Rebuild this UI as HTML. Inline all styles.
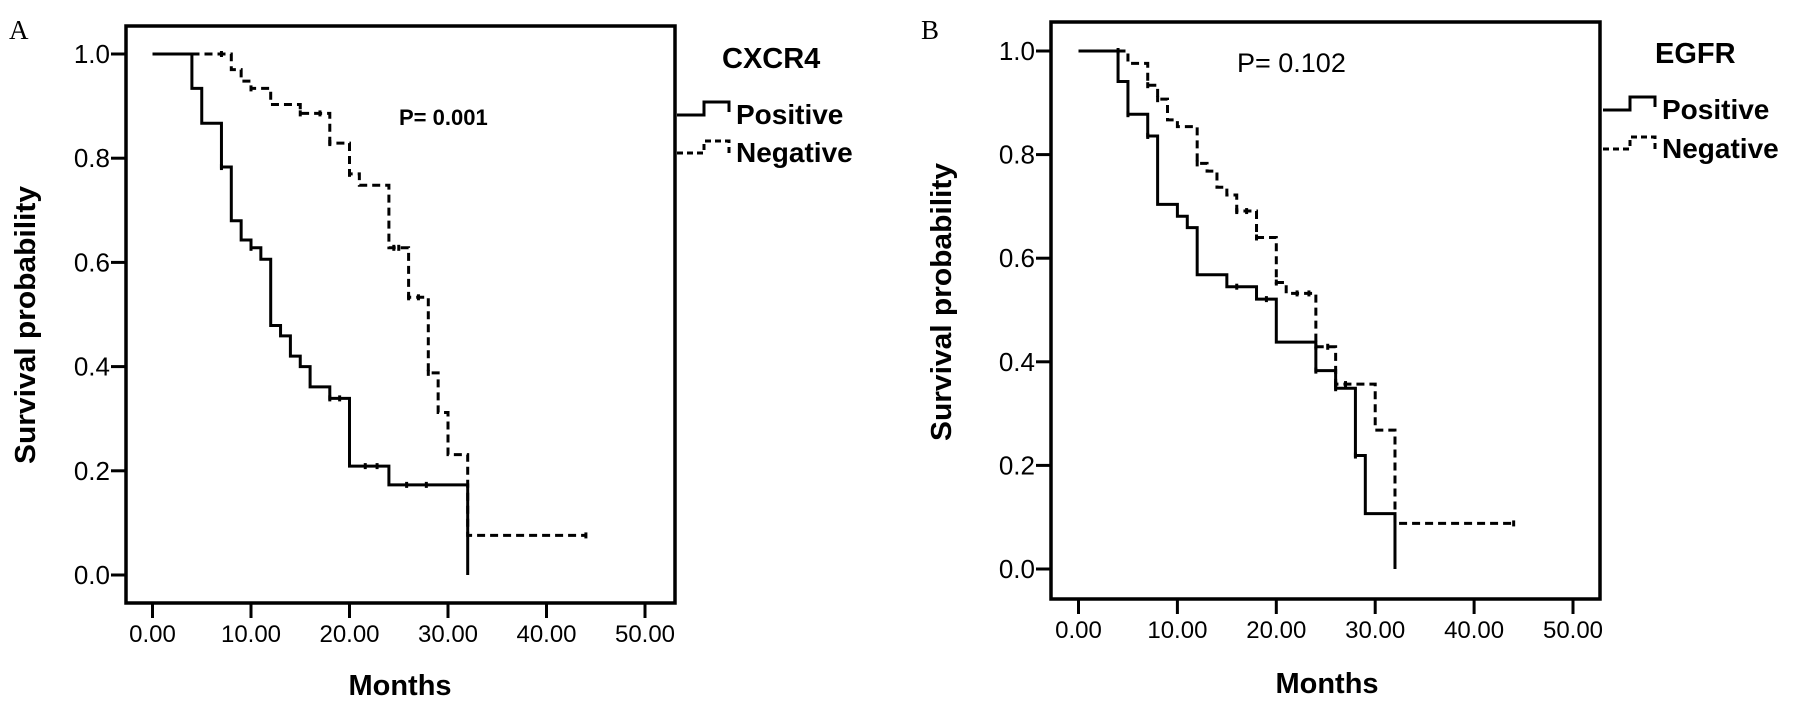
<!DOCTYPE html>
<html><head><meta charset="utf-8"><style>
html,body{margin:0;padding:0;background:#fff;}
svg{display:block;}
text{font-family:"Liberation Sans",Arial,sans-serif;fill:#000;}
</style></head><body>
<svg id="fig" width="1795" height="710" viewBox="0 0 1795 710" xmlns="http://www.w3.org/2000/svg"></svg>
<script>
// ---------- Data ----------
const xTicks = [0, 10, 20, 30, 40, 50];
const xTickLabels = ["0.00", "10.00", "20.00", "30.00", "40.00", "50.00"];
const yTicks = [0, 0.2, 0.4, 0.6, 0.8, 1.0];
const yTickLabels = ["0.0", "0.2", "0.4", "0.6", "0.8", "1.0"];

// Panel A (CXCR4)
const aPosTimes = [0, 4, 5, 7, 8, 9, 10, 11, 12, 13, 14, 15, 16, 18, 20, 24, 32];
const aPosSurv  = [1.0, 0.934, 0.867, 0.783, 0.680, 0.643, 0.628, 0.606, 0.479, 0.459, 0.420, 0.400, 0.361, 0.339, 0.209, 0.173, 0.0];
const aPosCensT = [7, 10, 18, 19, 21.6, 22.8, 25.8, 27.8];
const aPosCensS = [0.783, 0.628, 0.339, 0.339, 0.209, 0.209, 0.173, 0.173];
const aNegTimes = [0, 8, 9, 10, 12, 15, 18, 20, 21, 24, 26, 28, 29, 30, 32];
const aNegSurv  = [1.0, 0.970, 0.948, 0.934, 0.903, 0.886, 0.829, 0.770, 0.748, 0.628, 0.533, 0.388, 0.312, 0.231, 0.076];
const aNegEnd = 44;
const aNegCensT = [7, 10, 15, 17, 18, 20, 24.5, 25, 26, 27, 28, 44];
const aNegCensS = [1.0, 0.934, 0.886, 0.886, 0.829, 0.770, 0.628, 0.628, 0.533, 0.533, 0.388, 0.076];

// Panel B (EGFR)
const bPosTimes = [0, 4, 5, 7, 8, 10, 11, 12, 15, 18, 20, 24, 26, 28, 29, 32];
const bPosSurv  = [1.0, 0.941, 0.878, 0.836, 0.704, 0.681, 0.659, 0.568, 0.545, 0.521, 0.438, 0.383, 0.349, 0.219, 0.107, 0.0];
const bPosCensT = [5, 7, 16, 19, 24, 26, 28];
const bPosCensS = [0.878, 0.836, 0.545, 0.521, 0.383, 0.349, 0.219];
const bNegTimes = [0, 5, 7, 8, 9, 10, 12, 13, 14, 15, 16, 18, 20, 21, 24, 26, 30, 32];
const bNegSurv  = [1.0, 0.976, 0.934, 0.907, 0.867, 0.854, 0.783, 0.768, 0.737, 0.722, 0.691, 0.640, 0.553, 0.532, 0.429, 0.357, 0.268, 0.088];
const bNegEnd = 44;
const bNegCensT = [4, 7, 8, 12, 16, 17, 18, 20, 22.1, 23.3, 24, 25.2, 26, 27, 44];
const bNegCensS = [1.0, 0.934, 0.907, 0.783, 0.691, 0.691, 0.640, 0.553, 0.532, 0.532, 0.429, 0.429, 0.357, 0.357, 0.088];

// ---------- Drawing ----------
const NS = "http://www.w3.org/2000/svg";
const svg = document.getElementById("fig");
function mk(tag, attrs, parent) {
  const e = document.createElementNS(NS, tag);
  for (const k in attrs) e.setAttribute(k, attrs[k]);
  (parent || svg).appendChild(e);
  return e;
}
function txt(str, attrs, parent) { const t = mk("text", attrs, parent); t.textContent = str; return t; }

function stepPath(xs, ys, endT, sx, sy) {
  let d = "M" + sx(xs[0]) + "," + sy(ys[0]);
  for (let i = 1; i < xs.length; i++) {
    d += " H" + sx(xs[i]) + " V" + sy(ys[i]);
  }
  if (endT !== null) d += " H" + sx(endT);
  return d;
}

function panel(cfg) {
  const g = mk("g", {});
  
  
  const sx = t => cfg.x0 + t * cfg.xs;
  const sy = v => cfg.y0 - v * cfg.ys;
  const fr = mk("rect", {x: cfg.left, y: cfg.top, width: cfg.right - cfg.left, height: cfg.bottom - cfg.top, fill: "none", stroke: "#000", "stroke-width": 3.5}, g);
  
  
  yTicks.forEach((v, i) => {
    const tk = mk("line", {x1: cfg.left - 15, x2: cfg.left, y1: sy(v), y2: sy(v), stroke: "#000", "stroke-width": 3}, g);
    
    
    const lb = txt(yTickLabels[i], {x: cfg.left - 16, y: sy(v) + 9, "font-size": 26, "text-anchor": "end"}, g);
    
    
  });
  xTicks.forEach((t, i) => {
    const tk = mk("line", {x1: sx(t), x2: sx(t), y1: cfg.bottom, y2: cfg.bottom + 15, stroke: "#000", "stroke-width": 3}, g);
    
    
    const lb = txt(xTickLabels[i], {x: sx(t), y: cfg.xLabY, "font-size": 24, "text-anchor": "middle"}, g);
    
    
  });
  const xt = txt("Months", {x: cfg.monthsX, y: cfg.monthsY, "font-size": 29, "font-weight": "bold", "text-anchor": "middle"}, g);
  
  
  const yt = txt("Survival probability", {x: 0, y: 0, "font-size": 29, "font-weight": "bold", "text-anchor": "middle", textLength: 278, lengthAdjust: "spacingAndGlyphs", transform: "translate(" + cfg.ytX + "," + cfg.ytY + ") rotate(-90)"}, g);
  
  
  const pl = txt(cfg.letter, {x: cfg.letterX, y: 39, "font-size": 27, style: "font-family:'Liberation Serif',serif"}, g);
  
  
  const pv = txt(cfg.pText, cfg.pAttrs, g);
  
  
  const pos = mk("path", {d: stepPath(cfg.posT, cfg.posS, null, sx, sy), fill: "none", stroke: "#000", "stroke-width": 3}, g);
  
  
  const neg = mk("path", {d: stepPath(cfg.negT, cfg.negS, cfg.negEnd, sx, sy), fill: "none", stroke: "#000", "stroke-width": 3, "stroke-dasharray": "8,5"}, g);
  
  
  cfg.posCT.forEach((t, i) => {
    const c = mk("line", {x1: sx(t), x2: sx(t), y1: sy(cfg.posCS[i]) - 3, y2: sy(cfg.posCS[i]) + 3, stroke: "#000", "stroke-width": 3}, g);
    
    
  });
  cfg.negCT.forEach((t, i) => {
    const c = mk("line", {x1: sx(t), x2: sx(t), y1: sy(cfg.negCS[i]) - 3, y2: sy(cfg.negCS[i]) + 3, stroke: "#000", "stroke-width": 3}, g);
    
    
  });
  const L = cfg.leg;
  const lt = txt(cfg.gene, {x: L.titleX, y: L.titleY, "font-size": 29, "font-weight": "bold"}, g);
  
  
  const p1 = mk("path", {d: "M" + L.x + "," + L.py + " H" + (L.x + 27) + " V" + (L.py - 13) + " H" + (L.x + 52) + " V" + (L.py - 3), fill: "none", stroke: "#000", "stroke-width": 3}, g);
  
  
  const t1 = txt("Positive", {x: L.x + 59, y: L.py + 9, "font-size": 28, "font-weight": "bold"}, g);
  
  
  const p2 = mk("path", {d: "M" + L.x + "," + L.ny + " H" + (L.x + 27) + " V" + (L.ny - 12) + " H" + (L.x + 52) + " V" + (L.ny), fill: "none", stroke: "#000", "stroke-width": 3, "stroke-dasharray": "6,4"}, g);
  
  
  const t2 = txt("Negative", {x: L.x + 59, y: L.ny + 9, "font-size": 28, "font-weight": "bold"}, g);
  
  
}

panel({
  name: "panel-a-cxcr4", letter: "A", letterX: 9, gene: "CXCR4",
  left: 126, right: 675, top: 26, bottom: 603,
  x0: 152.5, xs: 9.85, y0: 575, ys: 521,
  xLabY: 642, monthsX: 400, monthsY: 695, ytX: 35, ytY: 325,
  pText: "P= 0.001", pAttrs: {x: 399, y: 125, "font-size": 22, "font-weight": "bold"},
  posT: aPosTimes, posS: aPosSurv, posCT: aPosCensT, posCS: aPosCensS,
  negT: aNegTimes, negS: aNegSurv, negEnd: aNegEnd, negCT: aNegCensT, negCS: aNegCensS,
  leg: {titleX: 722, titleY: 68, x: 677, py: 115, ny: 153}
});
panel({
  name: "panel-b-egfr", letter: "B", letterX: 921, gene: "EGFR",
  left: 1051, right: 1600, top: 22, bottom: 599,
  x0: 1078.5, xs: 9.89, y0: 569, ys: 518,
  xLabY: 638, monthsX: 1327, monthsY: 693, ytX: 951, ytY: 302,
  pText: "P= 0.102", pAttrs: {x: 1237, y: 72, "font-size": 27},
  posT: bPosTimes, posS: bPosSurv, posCT: bPosCensT, posCS: bPosCensS,
  negT: bNegTimes, negS: bNegSurv, negEnd: bNegEnd, negCT: bNegCensT, negCS: bNegCensS,
  leg: {titleX: 1655, titleY: 63, x: 1603, py: 110, ny: 149}
});
</script>
</body></html>
